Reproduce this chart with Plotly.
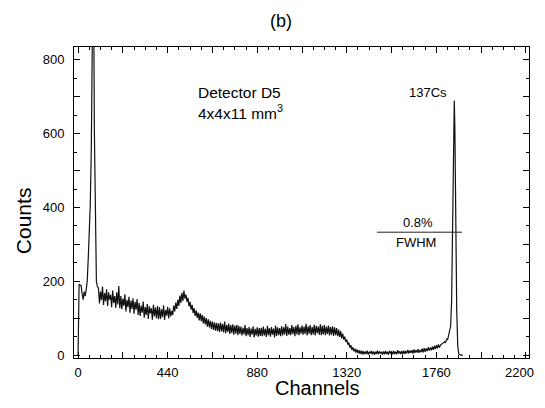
import plotly.graph_objects as go

# ---- data ----
# low-energy region (5-channel steps)
ch_low = [0, 5, 10, 15, 20, 25, 30, 35, 40, 45, 50, 55, 60, 65, 70, 75, 80, 85, 90, 95]
counts_low = [0, 192, 190, 188, 165, 150, 172, 160, 178, 200, 262, 330, 410, 560, 980, 1150, 610, 330, 200, 185]

# continuum, channels 100 .. 1775 in 5-channel steps
ch_mid = list(range(100, 1780, 5))
counts_mid = [
    182, 140, 172, 149, 186, 136, 168, 146, 178, 133, 170, 150, 163, 130, 175, 141, 160, 128, 170, 137,  # 100-195
    187, 127, 160, 124, 153, 133, 165, 118, 150, 130, 158, 115, 148, 125, 154, 112, 144, 123, 152, 109,  # 200-295
    141, 106, 134, 115, 145, 101, 130, 109, 138, 98, 132, 113, 127, 96, 136, 105, 129, 100, 133, 97,     # 300-395
    130, 98, 124, 103, 135, 95, 122, 107, 131, 99, 127, 105, 120, 109, 134, 118, 142, 125, 150, 133,     # 400-495
    161, 141, 169, 147, 175, 153, 164, 144, 155, 132, 144, 123, 136, 114, 127, 106, 121, 101, 115, 94,   # 500-595
    113, 92, 109, 86, 104, 83, 100, 77, 97, 75, 93, 71, 91, 68, 89, 66, 87, 65, 86, 63,                  # 600-695
    88, 64, 84, 61, 91, 59, 82, 63, 85, 57, 81, 60, 83, 55, 80, 58, 82, 54, 79, 57,                      # 700-795
    77, 53, 74, 56, 81, 51, 73, 54, 76, 49, 72, 55, 78, 48, 71, 53, 75, 50, 73, 52,                      # 800-895
    74, 51, 77, 53, 71, 49, 79, 54, 73, 50, 76, 55, 72, 48, 80, 52, 75, 54, 73, 51,                      # 900-995
    78, 53, 75, 56, 84, 52, 77, 55, 73, 54, 81, 57, 76, 51, 79, 56, 83, 54, 75, 58,                      # 1000-1095
    80, 55, 77, 57, 85, 53, 78, 58, 81, 54, 76, 56, 82, 53, 79, 59, 77, 55, 83, 54,                      # 1100-1195
    79, 56, 81, 54, 77, 57, 80, 53, 76, 55, 78, 52, 75, 54, 73, 51, 69, 49, 65, 45,                      # 1200-1295
    58, 42, 50, 36, 42, 28, 34, 20, 27, 14, 21, 10, 17, 7, 15, 5, 13, 3, 12, 2,                          # 1300-1395
    11, 2, 10, 3, 12, 1, 9, 4, 11, 2, 10, 1, 9, 3, 12, 2, 10, 4, 9, 1,                                   # 1400-1495
    10, 2, 11, 3, 9, 1, 12, 4, 10, 2, 11, 3, 9, 2, 13, 4, 10, 3, 11, 2,                                  # 1500-1595
    12, 3, 11, 5, 14, 4, 12, 6, 13, 4, 15, 6, 13, 7, 16, 6, 14, 8, 17, 7,                                # 1600-1695
    19, 9, 18, 11, 21, 12, 20, 13, 23, 14, 25, 16, 27, 18, 29, 20,                                       # 1700-1775
]

# 137Cs photopeak region
ch_peak = [1780, 1790, 1800, 1805, 1810, 1815, 1820, 1825, 1830, 1835, 1840, 1845,
           1848, 1851, 1855, 1860, 1865, 1870, 1880, 1890]
counts_peak = [27, 31, 36, 33, 44, 41, 55, 62, 78, 150, 345, 640,
               690, 610, 330, 120, 25, 3, 0, 0]

channels = ch_low + ch_mid + ch_peak
counts = counts_low + counts_mid + counts_peak

x_tickvals = [0, 220, 440, 660, 880, 1100, 1320, 1540, 1760, 1980, 2200]
x_ticktext = ["0", "", "440", "", "880", "", "1320", "", "1760", "", ""]
x_last_label = "2200"   # drawn as an annotation so it is not hidden at the figure edge
y_tickvals = [0, 100, 200, 300, 400, 500, 600, 700, 800]
y_ticktext = ["0", "", "200", "", "400", "", "600", "", "800"]

FONT = "Liberation Sans, Arial, sans-serif"

fig = go.Figure()
fig.add_trace(go.Scatter(x=channels, y=counts, mode="lines",
                         line=dict(color="#111111", width=1.2), showlegend=False,
                         hoverinfo="skip"))

axis_common = dict(showgrid=False, zeroline=False, showline=True, linecolor="black",
                   linewidth=1, mirror="allticks", ticks="inside", tickcolor="black",
                   tickwidth=1, ticklen=6,
                   tickfont=dict(family=FONT, size=13, color="black"))

fig.update_xaxes(range=[-20, 2215], tickmode="array", tickvals=x_tickvals,
                 ticktext=x_ticktext, ticklabelstandoff=2,
                 minor=dict(dtick=55, ticks="inside", ticklen=3, tickcolor="black", showgrid=False),
                 **axis_common)
fig.update_yaxes(range=[-8, 835], tickmode="array", tickvals=y_tickvals,
                 ticktext=y_ticktext, ticklabelstandoff=6,
                 minor=dict(dtick=50, ticks="inside", ticklen=3, tickcolor="black", showgrid=False),
                 **axis_common)

txt = dict(family=FONT, color="black")
annotations = [
    dict(text="(b)", xref="paper", yref="paper", x=0.455, y=1.0, yshift=26,
         xanchor="center", yanchor="middle", showarrow=False, font=dict(size=18, **txt)),
    dict(text="Channels", xref="paper", yref="paper", x=0.535, y=0, yshift=-30,
         xanchor="center", yanchor="middle", showarrow=False, borderpad=0,
         font=dict(size=20, **txt)),
    dict(text="Counts", xref="paper", yref="paper", x=0, xshift=-51, y=0.44,
         xanchor="center", yanchor="middle",
         textangle=-90, showarrow=False, font=dict(size=21, **txt)),
    dict(text=x_last_label, x=x_tickvals[-1], xref="x", yref="paper", y=0, yshift=-14,
         xanchor="right", xshift=10, yanchor="middle", showarrow=False,
         font=dict(size=13, **txt)),
    dict(text="Detector D5", x=580, y=713, xanchor="left", showarrow=False,
         font=dict(size=15.5, **txt)),
    dict(text="4x4x11 mm<sup>3</sup>", x=580, y=659, xanchor="left", showarrow=False,
         font=dict(size=15.5, **txt)),
    dict(text="137Cs", x=1719, y=713, showarrow=False, font=dict(size=13, **txt)),
    dict(text="0.8%", x=1670, y=358, showarrow=False, font=dict(size=13, **txt)),
    dict(text="FWHM", x=1660, y=304, showarrow=False, font=dict(size=13, **txt)),
]
# the page body keeps its default 8px margin on every side, so the figure is 16px smaller
fig.update_layout(
    width=529, height=392,
    margin=dict(l=66, r=8, t=39, b=42),
    paper_bgcolor="white", plot_bgcolor="white",
    annotations=annotations,
    hovermode=False,
    shapes=[dict(type="line", x0=1468, x1=1886, y0=333, y1=333, xref="x", yref="y",
                 line=dict(color="#222222", width=1))],
)
fig.write_html("out.html", config={"displayModeBar": False})
